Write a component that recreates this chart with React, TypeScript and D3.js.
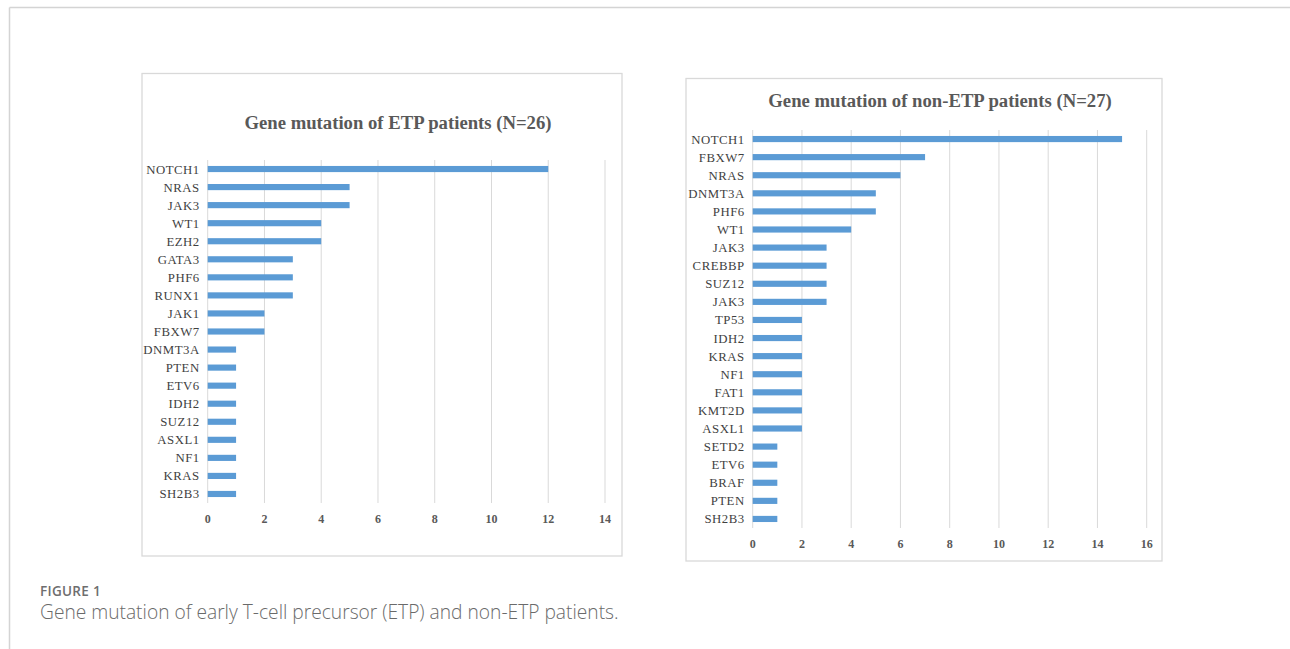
import React from "react";
import * as d3 from "d3";

// ETP patients (N=26)
const etpGenes = ["NOTCH1","NRAS","JAK3","WT1","EZH2","GATA3","PHF6","RUNX1","JAK1","FBXW7","DNMT3A","PTEN","ETV6","IDH2","SUZ12","ASXL1","NF1","KRAS","SH2B3"];
const etpCounts = [12,5,5,4,4,3,3,3,2,2,1,1,1,1,1,1,1,1,1];
const etpTicks = [0,2,4,6,8,10,12,14];

// non-ETP patients (N=27)
const nonEtpGenes = ["NOTCH1","FBXW7","NRAS","DNMT3A","PHF6","WT1","JAK3","CREBBP","SUZ12","JAK3 ","TP53","IDH2","KRAS","NF1","FAT1","KMT2D","ASXL1","SETD2","ETV6","BRAF","PTEN","SH2B3"];
const nonEtpCounts = [15,7,6,5,5,4,3,3,3,3,2,2,2,2,2,2,2,1,1,1,1,1];
const nonEtpTicks = [0,2,4,6,8,10,12,14,16];

const titles = ["Gene mutation of ETP patients (N=26)", "Gene mutation of non-ETP patients (N=27)"];
const captionLabel = "FIGURE 1";
const captionText = "Gene mutation of early T-cell precursor (ETP) and non-ETP patients.";

const BAR = "#5b9bd5";
const GRID = "#d9d9d9";
const SERIF = "'Liberation Serif', 'Times New Roman', serif";

type PanelProps = {
  box: [number, number, number, number];
  plot: [number, number, number, number];
  title: string;
  titleX: number;
  titleY: number;
  genes: string[];
  counts: number[];
  ticks: number[];
};

function Panel({ box, plot, title, titleX, titleY, genes, counts, ticks }: PanelProps) {
  const [bx, by, bw, bh] = box;
  const [x0, x1, y0, y1] = plot;
  const x = d3.scaleLinear().domain([ticks[0], ticks[ticks.length - 1]]).range([x0, x1]);
  const y = d3.scaleBand<number>().domain(d3.range(genes.length)).range([y0, y1]).paddingInner(0.66).paddingOuter(0.33);
  return (
    <g>
      <rect x={bx} y={by} width={bw} height={bh} fill="#fff" stroke={GRID} strokeWidth={1.3} />
      <text x={titleX} y={titleY} textAnchor="middle" fontFamily={SERIF} fontWeight="bold" fontSize={18.7} fill="#595959">
        {title}
      </text>
      {ticks.map((t) => (
        <line key={"g" + t} x1={x(t)} x2={x(t)} y1={y0} y2={y1} stroke={GRID} strokeWidth={1} />
      ))}
      {genes.map((g, i) => (
        <rect key={"b" + i} x={x(0)} y={y(i)!} width={x(counts[i]) - x(0)} height={y.bandwidth()} fill={BAR} />
      ))}
      {genes.map((g, i) => (
        <text key={"l" + i} x={x(0) - 8} y={y(i)! + y.bandwidth() / 2} dy="0.35em" textAnchor="end"
          fontFamily={SERIF} fontSize={12.8} letterSpacing={0.5} fill="#3f3f3f">
          {g.trim()}
        </text>
      ))}
      {ticks.map((t) => (
        <text key={"t" + t} x={x(t)} y={y1 + 16} dy="0.35em" textAnchor="middle"
          fontFamily={SERIF} fontSize={12} fontWeight="bold" fill="#595959">
          {t}
        </text>
      ))}
    </g>
  );
}

export default function App() {
  return (
    <svg width={1290} height={649} style={{ position: "absolute", left: 0, top: 0, background: "#fff" }}>
      <rect x={0} y={0} width={1290} height={649} fill="#fff" />
      <line x1={9.5} x2={1290} y1={7.5} y2={7.5} stroke="#d4d4d4" strokeWidth={1.5} />
      <line x1={9.5} x2={9.5} y1={7.5} y2={649} stroke="#d4d4d4" strokeWidth={1.5} />
      <Panel box={[142, 73.5, 480, 482.5]} plot={[207.7, 605, 160, 503]} title={titles[0]}
        titleX={398} titleY={129} genes={etpGenes} counts={etpCounts} ticks={etpTicks} />
      <Panel box={[686, 78.5, 476, 482.5]} plot={[752.7, 1146.7, 130, 528]} title={titles[1]}
        titleX={940} titleY={107} genes={nonEtpGenes} counts={nonEtpCounts} ticks={nonEtpTicks} />
      <text x={40} y={596} fontFamily="'Open Sans', sans-serif" fontWeight={600} fontSize={13.5} letterSpacing={0.3} fill="#6e6e6e">
        {captionLabel}
      </text>
      <text x={40} y={619} fontFamily="'Open Sans', sans-serif" fontWeight={300} fontSize={19.2} fill="#6a6a6a">
        {captionText}
      </text>
    </svg>
  );
}
